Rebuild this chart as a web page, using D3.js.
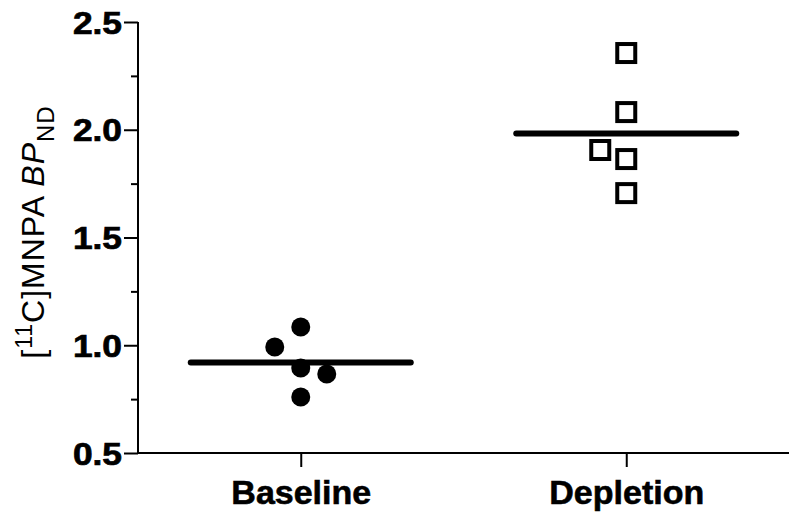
<!DOCTYPE html>
<html>
<head>
<meta charset="utf-8">
<script src="https://cdn.jsdelivr.net/npm/d3@7/dist/d3.min.js"></script>
<style>
  html, body { margin: 0; padding: 0; background: #fff; }
  svg { display: block; }
</style>
</head>
<body>
<svg id="chart" width="800" height="524"></svg>
<script>
// ---- data ----
const categories = ["Baseline", "Depletion"];
const baselineValues = [0.894, 0.992, 0.867, 1.085, 0.760];
const depletionValues = [1.706, 1.864, 1.906, 2.082, 2.356];
const yMajorTicks = [0.5, 1.0, 1.5, 2.0, 2.5];
const yMinorTicks = [0.75, 1.25, 1.75, 2.25];
const yTickLabels = ["0.5", "1.0", "1.5", "2.0", "2.5"];

const series = [
  { name: categories[0], values: baselineValues, symbol: "circle" },
  { name: categories[1], values: depletionValues, symbol: "square" }
];

// ---- layout ----
const svg = d3.select("#chart");
const plotLeft = 138, plotRight = 789, plotTop = 22, plotBottom = 453;

const y = d3.scaleLinear().domain([0.5, 2.5]).range([plotBottom, plotTop]);
const x = d3.scalePoint().domain(categories).range([plotLeft, plotRight]).padding(0.5);

const axisStroke = 2;

// y axis (major)
const yAxisG = svg.append("g").attr("transform", `translate(${plotLeft},0)`)
  .call(d3.axisLeft(y).tickValues(yMajorTicks).tickSize(14).tickSizeOuter(0)
        .tickFormat((d, i) => yTickLabels[i]));
yAxisG.select(".domain").attr("stroke", "#000").attr("stroke-width", axisStroke)
  .attr("d", `M0,${plotBottom}V${plotTop}`);
yAxisG.selectAll(".tick line").attr("stroke", "#000").attr("stroke-width", axisStroke);
yAxisG.selectAll(".tick text")
  .attr("x", null).attr("dy", null)
  .attr("transform", "translate(-16,11) scale(1.14,1)")
  .attr("text-anchor", "end")
  .style("font-family", "'Liberation Sans', Arial, sans-serif")
  .style("font-weight", "bold")
  .style("font-size", "31px")
  .attr("fill", "#000")
  .attr("stroke", "#000").attr("stroke-width", 0.7);

// y axis (minor)
const yMinorG = svg.append("g").attr("transform", `translate(${plotLeft},0)`)
  .call(d3.axisLeft(y).tickValues(yMinorTicks).tickSize(7).tickFormat(""));
yMinorG.select(".domain").remove();
yMinorG.selectAll(".tick line").attr("stroke", "#000").attr("stroke-width", axisStroke);

// x axis
const xAxisG = svg.append("g").attr("transform", `translate(0,${plotBottom})`)
  .call(d3.axisBottom(x).tickSize(14).tickSizeOuter(0));
xAxisG.select(".domain").attr("stroke", "#000").attr("stroke-width", axisStroke)
  .attr("d", `M${plotLeft},0H${plotRight}`);
xAxisG.selectAll(".tick line").attr("stroke", "#000").attr("stroke-width", axisStroke);
xAxisG.selectAll(".tick text")
  .attr("y", 51).attr("dy", null)
  .style("font-family", "'Liberation Sans', Arial, sans-serif")
  .style("font-weight", "bold")
  .style("font-size", "34px")
  .attr("fill", "#000")
  .attr("stroke", "#000").attr("stroke-width", 0.6);

// y axis title
const title = svg.append("text")
  .attr("transform", "translate(44,232) rotate(-90)")
  .attr("text-anchor", "middle")
  .style("font-family", "'Liberation Sans', Arial, sans-serif")
  .style("font-size", "32px")
  .style("letter-spacing", "1px")
  .attr("fill", "#000");
title.append("tspan").text("[");
title.append("tspan").attr("dy", -12).style("font-size", "23px").text("11");
title.append("tspan").attr("dy", 12).text("C]MNPA ");
title.append("tspan").style("font-style", "italic").text("BP");
title.append("tspan").attr("dy", 10).style("font-size", "24px").text("ND");

// ---- marks: column scatter with lane offsets computed from collisions ----
const laneStep = 26, collide = 22;
function lanes(values) {
  const placed = [];
  return values.map(v => {
    const py = y(v);
    const free = l => placed.every(p => p.lane !== l || Math.abs(p.py - py) >= collide);
    let lane = 0;
    if (!free(0)) {
      for (let k = 1; k < 10; k++) {
        const negCount = placed.filter(p => p.lane < 0).length;
        const posCount = placed.filter(p => p.lane > 0).length;
        const order = posCount < negCount ? [k, -k] : [-k, k];
        const f = order.find(free);
        if (f !== undefined) { lane = f; break; }
      }
    }
    placed.push({ py, lane });
    return { value: v, lane };
  });
}

const markG = svg.append("g");
series.forEach(s => {
  const cx = x(s.name);
  const pts = lanes(s.values);
  if (s.symbol === "circle") {
    markG.selectAll(null).data(pts).join("circle")
      .attr("cx", d => cx + d.lane * laneStep)
      .attr("cy", d => y(d.value))
      .attr("r", 9.5)
      .attr("fill", "#000");
  } else {
    const side = 18;
    markG.selectAll(null).data(pts).join("rect")
      .attr("x", d => cx + d.lane * laneStep - side / 2)
      .attr("y", d => y(d.value) - side / 2)
      .attr("width", side).attr("height", side)
      .attr("fill", "#fff").attr("stroke", "#000").attr("stroke-width", 4);
  }
  // mean line
  const m = d3.mean(s.values);
  markG.append("line")
    .attr("x1", cx - 110).attr("x2", cx + 110)
    .attr("y1", y(m)).attr("y2", y(m))
    .attr("stroke", "#000").attr("stroke-width", 6)
    .attr("stroke-linecap", "round");
});
</script>
</body>
</html>
